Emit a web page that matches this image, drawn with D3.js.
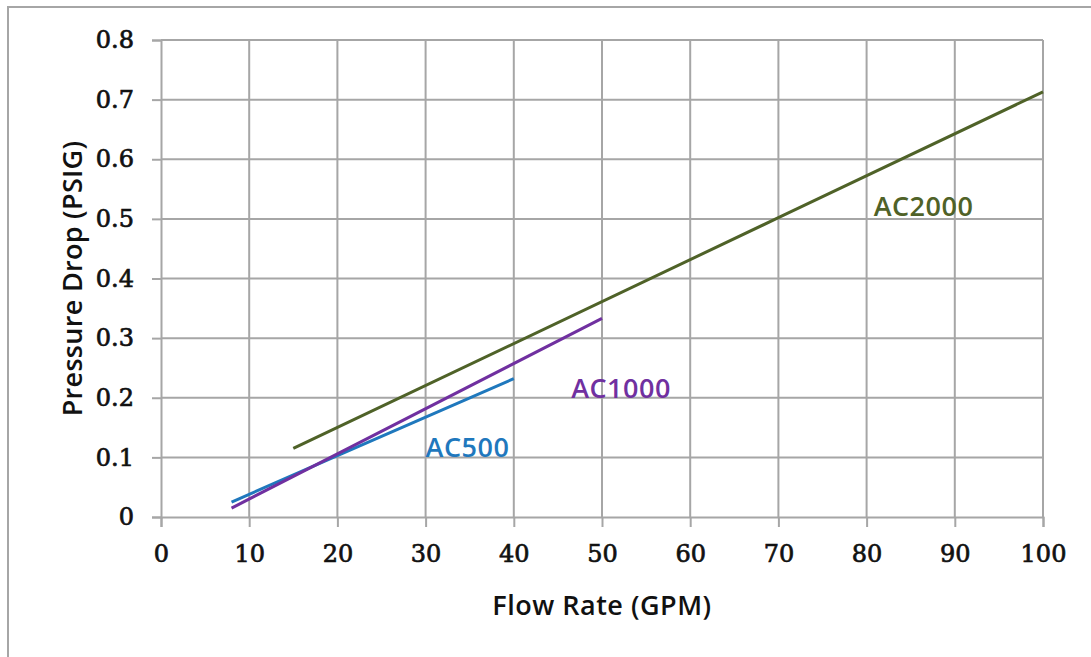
<!DOCTYPE html>
<html>
<head>
<meta charset="utf-8">
<script src="https://cdn.jsdelivr.net/npm/d3@7"></script>
<style>
  body { margin: 0; background: #fff; }
</style>
</head>
<body>
<div id="chart"></div>
<script>
// values
const xTicks = [0, 10, 20, 30, 40, 50, 60, 70, 80, 90, 100];
const yTicks = [0, 0.1, 0.2, 0.3, 0.4, 0.5, 0.6, 0.7, 0.8];

const ac500Flow = [8, 20, 40];
const ac500Drop = [0.025, 0.103, 0.232];
const ac1000Flow = [8, 20, 50];
const ac1000Drop = [0.015, 0.106, 0.333];
const ac2000Flow = [15, 70, 100];
const ac2000Drop = [0.115, 0.502, 0.713];

const seriesNames = ['AC500', 'AC1000', 'AC2000'];
const seriesColors = ['#1f78bd', '#7030a0', '#4f6228'];
// label anchor in data units (left edge, baseline)
const labelX = [30, 46.5, 80.8];
const labelY = [0.1, 0.2, 0.505];

const width = 1091, height = 657;
const margin = { left: 161, right: 48, top: 40, bottom: 140 };

const svg = d3.select('#chart').append('svg')
  .attr('width', width)
  .attr('height', height);

// outer frame
svg.append('rect')
  .attr('x', 8).attr('y', 7)
  .attr('width', width + 20).attr('height', height + 20)
  .attr('fill', 'none')
  .attr('stroke', '#a6a6a6')
  .attr('stroke-width', 2);

const x = d3.scaleLinear().domain([0, 100]).range([margin.left, width - margin.right]);
const y = d3.scaleLinear().domain([0, 0.8]).range([height - margin.bottom, margin.top]);

const gridColor = '#a6a6a6';

// gridlines
svg.append('g')
  .selectAll('line')
  .data(xTicks.slice(1))
  .enter().append('line')
  .attr('x1', d => x(d)).attr('x2', d => x(d))
  .attr('y1', y(0)).attr('y2', y(0.8))
  .attr('stroke', gridColor).attr('stroke-width', 2);

svg.append('g')
  .selectAll('line')
  .data(yTicks.slice(1))
  .enter().append('line')
  .attr('x1', x(0)).attr('x2', x(100))
  .attr('y1', d => y(d)).attr('y2', d => y(d))
  .attr('stroke', gridColor).attr('stroke-width', 2);

// axes
const xAxis = svg.append('g')
  .attr('transform', `translate(0,${y(0)})`)
  .call(d3.axisBottom(x).tickValues(xTicks).tickSize(10).tickPadding(18).tickFormat(d3.format('d')));

const yAxis = svg.append('g')
  .attr('transform', `translate(${x(0)},0)`)
  .call(d3.axisLeft(y).tickValues(yTicks).tickSize(9).tickPadding(18)
    .tickFormat(d => d === 0 ? '0' : d3.format('.1f')(d)));

[xAxis, yAxis].forEach(a => {
  a.select('.domain').attr('stroke', gridColor).attr('stroke-width', 2);
  a.selectAll('.tick line').attr('stroke', gridColor).attr('stroke-width', 2);
  a.selectAll('.tick text')
    .attr('fill', '#111')
    .attr('stroke', '#111')
    .attr('stroke-width', 0.7)
    .style('font-family', '"DejaVu Serif", serif')
    .style('font-size', '24px');
});
xAxis.selectAll('.tick text').attr('dy', '0.71em');

// series lines
const line = d3.line().x(d => x(d[0])).y(d => y(d[1]));
const series = [
  d3.zip(ac500Flow, ac500Drop),
  d3.zip(ac1000Flow, ac1000Drop),
  d3.zip(ac2000Flow, ac2000Drop)
];

svg.append('g')
  .selectAll('path')
  .data(series)
  .enter().append('path')
  .attr('d', line)
  .attr('fill', 'none')
  .attr('stroke', (d, i) => seriesColors[i])
  .attr('stroke-width', 3);

// series labels
svg.append('g')
  .selectAll('text')
  .data(seriesNames)
  .enter().append('text')
  .attr('x', (d, i) => x(labelX[i]))
  .attr('y', (d, i) => y(labelY[i]))
  .attr('fill', (d, i) => seriesColors[i])
  .style('font-family', '"Open Sans", sans-serif')
  .style('font-size', '27px')
  .style('font-weight', '600')
  .style('letter-spacing', '0.5px')
  .text(d => d);

// axis titles
svg.append('text')
  .attr('x', (x(0) + x(100)) / 2)
  .attr('y', 615)
  .attr('text-anchor', 'middle')
  .attr('fill', '#111')
  .style('font-family', '"Open Sans", sans-serif')
  .style('font-size', '27px')
  .style('font-weight', '600')
  .style('letter-spacing', '0.5px')
  .text('Flow Rate (GPM)');

svg.append('text')
  .attr('transform', `translate(82,${(y(0) + y(0.8)) / 2}) rotate(-90)`)
  .attr('text-anchor', 'middle')
  .attr('fill', '#111')
  .style('font-family', '"Open Sans", sans-serif')
  .style('font-size', '27px')
  .style('font-weight', '600')
  .style('letter-spacing', '0.3px')
  .text('Pressure Drop (PSIG)');
</script>
</body>
</html>
